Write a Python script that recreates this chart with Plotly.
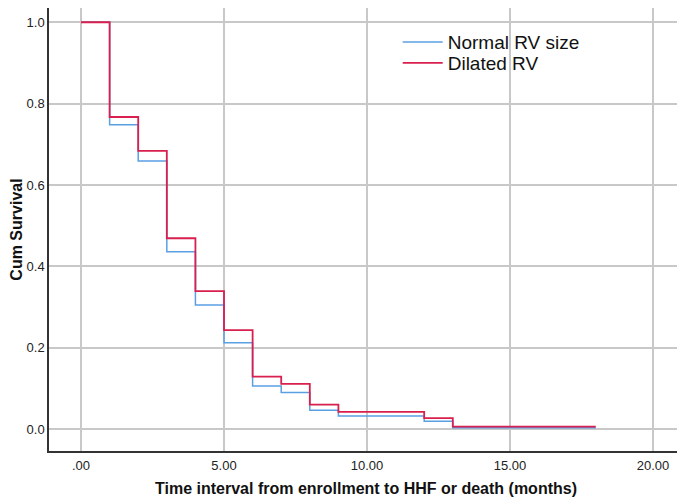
import plotly.graph_objects as go

times = [0, 1, 2, 3, 4, 5, 6, 7, 8, 9, 12, 13, 18]
normal_rv = [1.0, 0.748, 0.659, 0.436, 0.305, 0.212, 0.106, 0.090, 0.046, 0.032, 0.019, 0.003, 0.003]
dilated_rv = [1.0, 0.767, 0.684, 0.469, 0.339, 0.243, 0.129, 0.111, 0.060, 0.042, 0.027, 0.006, 0.006]
x_tickvals = [0, 5, 10, 15, 20]
x_ticktext = [".00", "5.00", "10.00", "15.00", "20.00"]
y_tickvals = [0.0, 0.2, 0.4, 0.6, 0.8, 1.0]
y_ticktext = ["0.0", "0.2", "0.4", "0.6", "0.8", "1.0"]

fig = go.Figure()
fig.add_trace(go.Scatter(x=times, y=normal_rv, mode="lines", line_shape="hv",
                         name="Normal RV size", legend="legend",
                         line=dict(color="#5b9fe3", width=1.5)))
fig.add_trace(go.Scatter(x=times, y=dilated_rv, mode="lines", line_shape="hv",
                         name="Dilated RV", legend="legend2",
                         line=dict(color="#d81f4e", width=1.8)))

leg_common = dict(xanchor="left", yanchor="middle", bgcolor="rgba(0,0,0,0)",
                  font=dict(size=19, color="#111"), itemwidth=40)

fig.update_layout(
    width=677, height=494,
    margin=dict(l=41, r=2, t=0, b=51, autoexpand=False),
    paper_bgcolor="white", plot_bgcolor="white",
    font=dict(family="Liberation Sans, Arial, sans-serif", color="#111"),
    showlegend=True,
    legend=dict(x=0.55, y=0.923, **leg_common),
    legend2=dict(x=0.55, y=0.876, **leg_common),
    xaxis=dict(range=[-1.12, 21.05], tickvals=x_tickvals, ticktext=x_ticktext,
               showgrid=True, gridcolor="#c8c8c8", gridwidth=1.5,
               showline=True, linecolor="#333", linewidth=1.5,
               zeroline=False, ticks="", ticklabelstandoff=2,
               tickfont=dict(size=13, color="#222"),
               automargin=False,
               title=dict(text="<b>Time interval from enrollment to HHF or death (months)</b>",
                          font=dict(size=16, color="#111"), standoff=10)),
    yaxis=dict(range=[-0.054, 1.035], tickvals=y_tickvals, ticktext=y_ticktext,
               showgrid=True, gridcolor="#c8c8c8", gridwidth=1.5,
               showline=True, linecolor="#333", linewidth=1.5,
               zeroline=False, ticks="", tickfont=dict(size=13, color="#222"),
               automargin=False,
               title=dict(text="<b>Cum Survival</b>", font=dict(size=16, color="#111"), standoff=0)),
)

fig.write_html("out.html")
